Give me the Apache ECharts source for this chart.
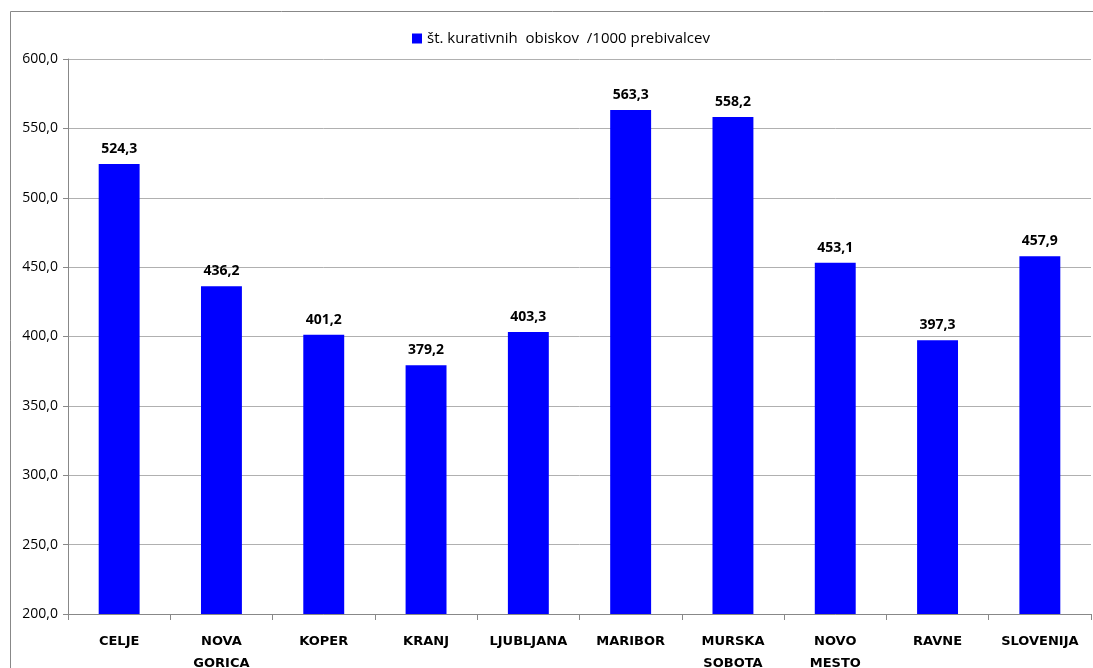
<!DOCTYPE html>
<html>
<head>
<meta charset="utf-8">
<style>
  html, body { margin: 0; padding: 0; background: #fff; }
  #chart { width: 1093px; height: 668px; }
</style>
<script src="https://cdn.jsdelivr.net/npm/echarts@6/dist/echarts.min.js"></script>
</head>
<body>
<div id="chart"></div>
<script>
const categories = ['CELJE', 'NOVA\nGORICA', 'KOPER', 'KRANJ', 'LJUBLJANA', 'MARIBOR', 'MURSKA\nSOBOTA', 'NOVO\nMESTO', 'RAVNE', 'SLOVENIJA']
const visits = [524.3, 436.2, 401.2, 379.2, 403.3, 563.3, 558.2, 453.1, 397.3, 457.9]
const seriesName = 'št. kurativnih  obiskov  /1000 prebivalcev'

const chart = echarts.init(document.getElementById('chart'))
const fmt = v => v.toFixed(1).replace('.', ',')

chart.setOption({
  animation: false,
  textStyle: { fontFamily: 'Open Sans' },
  graphic: [{
    type: 'rect',
    shape: { x: 10.5, y: 11.5, width: 1100, height: 700 },
    style: { fill: 'none', stroke: '#888', lineWidth: 1 }
  }],
  legend: {
    data: [seriesName],
    top: 26,
    left: 407,
    itemWidth: 10,
    itemHeight: 10,
    itemGap: 3,
    icon: 'rect',
    textStyle: { fontSize: 15, color: '#000', fontFamily: 'Open Sans' }
  },
  grid: { left: 68, right: 2, top: 59, bottom: 54, outerBoundsMode: 'none' },
  xAxis: {
    type: 'category',
    data: categories,
    axisLine: { lineStyle: { color: '#888' } },
    axisTick: { show: true, length: 6, lineStyle: { color: '#888' } },
    axisLabel: {
      interval: 0,
      margin: 17,
      fontSize: 13,
      fontWeight: 'bold',
      color: '#000',
      lineHeight: 22,
      fontFamily: 'DejaVu Sans'
    }
  },
  yAxis: {
    type: 'value',
    min: 200,
    max: 600,
    interval: 50,
    axisLine: { show: true, lineStyle: { color: '#888' } },
    axisTick: { show: true, length: 5, lineStyle: { color: '#888' } },
    axisLabel: { fontSize: 14, color: '#000', margin: 10, formatter: fmt },
    splitLine: { lineStyle: { color: '#b0b0b0' } }
  },
  series: [{
    name: seriesName,
    type: 'bar',
    data: visits,
    barWidth: '40%',
    itemStyle: { color: '#0000FF' },
    label: {
      show: true,
      position: 'top',
      distance: 8,
      fontSize: 14,
      fontWeight: 'bold',
      color: '#000',
      formatter: p => fmt(p.value)
    }
  }]
})
</script>
</body>
</html>
